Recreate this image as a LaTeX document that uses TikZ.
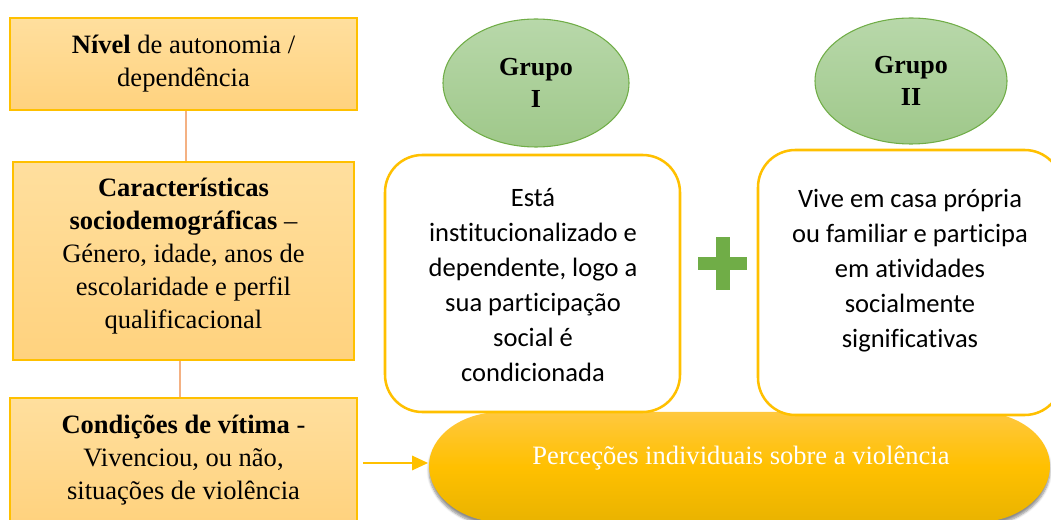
\documentclass[tikz,border=0pt]{standalone}
\usepackage{fontspec}
\setmainfont{Liberation Serif}
\newfontfamily\calibrifont[Ligatures={NoCommon}]{Carlito}
\usetikzlibrary{arrows.meta,shapes.geometric,shadows.blur}
\definecolor{gold}{HTML}{FFC000}
\definecolor{boxtop}{HTML}{FFDF9E}
\definecolor{boxbot}{HTML}{FFD27E}
\definecolor{linkor}{HTML}{F4B183}
\definecolor{grtop}{HTML}{B8D8AA}
\definecolor{grbot}{HTML}{9FC88A}
\definecolor{grline}{HTML}{70AD47}
\definecolor{pertop}{HTML}{FFC83F}
\definecolor{permid}{HTML}{FFC000}
\definecolor{perbot}{HTML}{E9B300}
\tikzset{
  leftbox/.style={draw=gold, line width=1.9pt, top color=boxtop, bottom color=boxbot,
    inner sep=0pt, align=center, font=\fontsize{19.9pt}{24.75pt}\selectfont},
  groupbox/.style={draw=gold, line width=1.9pt, fill=white, rounded corners=28pt, inner sep=0pt},
  groupell/.style={ellipse, draw=grline, line width=0.8pt, top color=grtop, bottom color=grbot,
    inner sep=0pt, align=center, font=\bfseries\fontsize{19.5pt}{24pt}\selectfont},
  boxtext/.style={align=center, inner sep=0pt, font=\calibrifont\fontsize{19.9pt}{26.25pt}\selectfont},
  leftlink/.style={draw=linkor, line width=1.1pt},
  perarrow/.style={draw=gold, line width=0.9pt, -{Triangle[length=12pt,width=11pt]}}
}
\begin{document}
\begin{tikzpicture}[x=0.75pt,y=-0.75pt]
\useasboundingbox (0,0) rectangle (1051,520);
\clip (0,0) rectangle (1051,520);
% bottom shape
\path[blur shadow={shadow xshift=0pt, shadow yshift=-3pt, shadow blur steps=6, shadow opacity=45},
  top color=pertop, bottom color=perbot, middle color=permid]
  (501,412) -- (978,412) .. controls (1017.8,412) and (1050,436.2) .. (1050,466)
  .. controls (1050,495.8) and (1017.8,522) .. (978,522) -- (501,522)
  .. controls (461.2,522) and (429,495.8) .. (429,466)
  .. controls (429,436.2) and (461.2,412) .. (501,412) -- cycle;
\node[text=white, inner sep=0pt, font=\fontsize{19.9pt}{24pt}\selectfont] (perc) at (741,458) {Perceções individuais sobre a violência};
\coordinate (percW) at (428,463);
% left boxes
\node[leftbox, minimum width=347*0.75pt, minimum height=92*0.75pt] (b1) at (183.5,64)
  {\textbf{Nível} de autonomia /\\dependência};
\node[leftbox, minimum width=341*0.75pt, minimum height=198*0.75pt] (b2) at (183.5,261) {};
\node[align=center, inner sep=0pt, font=\fontsize{19.9pt}{24.75pt}\selectfont] (b2t) at (183.5,256)
  {\textbf{Características}\\\textbf{sociodemográficas} –\\Género, idade, anos de\\escolaridade e perfil\\qualificacional};
\node[leftbox, minimum width=347*0.75pt, minimum height=124*0.75pt] (b3) at (183.5,460)
  {\textbf{Condições de vítima} -\\Vivenciou, ou não,\\situações de violência};
\draw[leftlink] ([xshift=1.9pt]b1.south) -- ([xshift=1.9pt]b2.north);
\draw[leftlink] ([xshift=-2.6pt]b2.south) -- ([xshift=-2.6pt]b3.north);
\coordinate (arrS) at (363,463);
\draw[perarrow] (arrS) -- (percW);
% groups
\node[groupell, minimum width=186*0.75pt, minimum height=128*0.75pt] (g1) at (536,83) {Grupo\\I};
\node[groupell, minimum width=192*0.75pt, minimum height=126*0.75pt] (g2) at (911,81) {Grupo\\II};
\node[groupbox, minimum width=295*0.75pt, minimum height=257*0.75pt] (gb1) at (532.5,283.5) {};
\node[boxtext] (gb1t) at (533,285) {Está\\institucionalizado e\\dependente, logo a\\sua participação\\social é\\condicionada};
\node[groupbox, minimum width=304*0.75pt, minimum height=265*0.75pt] (gb2) at (910,282.5) {};
\node[boxtext] (gb2t) at (910,271) {Vive em casa própria\\ou familiar e participa\\em atividades\\socialmente\\significativas};
% plus sign
\fill[grline] (716,237) rectangle (730,290);
\fill[grline] (698,257) rectangle (747,270);
\end{tikzpicture}
\end{document}
